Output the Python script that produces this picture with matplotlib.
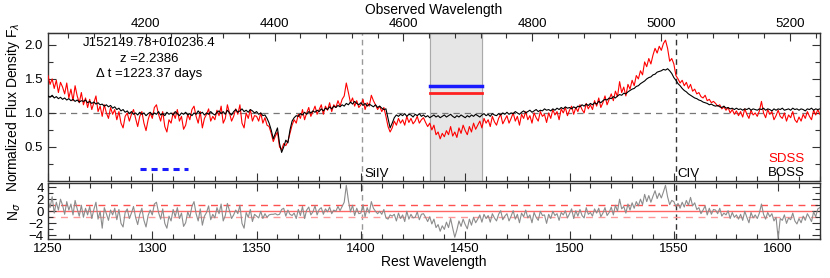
import numpy as np
import matplotlib
matplotlib.use("Agg")
import matplotlib.pyplot as plt
from matplotlib.ticker import MultipleLocator

plt.rcParams['font.family'] = ['Liberation Sans', 'DejaVu Sans']

z = 2.2386
wave = np.arange(1250, 1621, 1)  # rest wavelength grid (Angstrom)

boss = [
    1.25, 1.23, 1.26, 1.22, 1.24, 1.21, 1.23, 1.20, 1.22, 1.19,
    1.21, 1.18, 1.20, 1.17, 1.19, 1.16, 1.18, 1.17, 1.19, 1.15,
    1.17, 1.14, 1.16, 1.13, 1.15, 1.12, 1.13, 1.10, 1.12, 1.09,
    1.11, 1.07, 1.09, 1.05, 1.07, 1.03, 1.05, 1.01, 1.03, 0.99,
    1.02, 0.98, 1.00, 0.97, 1.01, 0.98, 1.00, 0.96, 0.99, 1.01,
    0.97, 1.00, 0.98, 1.02, 0.97, 0.99, 0.96, 1.01, 0.98, 1.00,
    0.97, 1.02, 0.99, 0.96, 1.00, 0.98, 1.01, 0.97, 0.99, 0.96,
    1.00, 0.98, 1.03, 0.99, 1.01, 0.97, 1.00, 0.98, 1.02, 0.99,
    0.97, 1.01, 1.03, 0.99, 1.02, 0.98, 1.04, 1.00, 0.97, 1.02,
    1.05, 1.01, 1.03, 1.06, 1.02, 1.04, 1.01, 1.05, 1.03, 1.00,
    1.02, 0.98, 1.00, 0.96, 0.97, 0.92, 0.85, 0.75, 0.62, 0.70,
    0.78, 0.55, 0.42, 0.50, 0.60, 0.56, 0.75, 0.88, 0.93, 0.96,
    0.95, 0.99, 0.97, 1.01, 0.98, 1.02, 1.00, 1.03, 1.01, 1.04,
    1.02, 1.06, 1.03, 1.07, 1.05, 1.09, 1.06, 1.10, 1.08, 1.11,
    1.09, 1.12, 1.10, 1.14, 1.12, 1.16, 1.13, 1.17, 1.14, 1.12,
    1.15, 1.11, 1.14, 1.10, 1.13, 1.11, 1.09, 1.12, 1.08, 1.10,
    1.07, 1.05, 1.06, 0.92, 0.78, 0.85, 0.93, 0.97, 0.95, 0.98,
    0.96, 0.99, 0.95, 0.98, 0.97, 0.94, 0.98, 0.96, 0.99, 0.95,
    0.97, 0.94, 0.96, 0.93, 0.95, 0.97, 0.94, 0.96, 0.93, 0.95,
    0.97, 0.94, 0.96, 0.98, 0.95, 0.93, 0.96, 0.94, 0.97, 0.95,
    0.93, 0.96, 0.94, 0.97, 0.95, 0.98, 0.96, 0.94, 0.97, 0.99,
    0.96, 0.98, 0.95, 0.99, 0.97, 0.96, 0.99, 0.97, 1.00, 0.98,
    1.01, 0.98, 1.00, 0.99, 1.02, 1.00, 0.98, 1.01, 1.03, 1.00,
    1.02, 1.04, 1.01, 1.03, 1.05, 1.02, 1.04, 1.03, 1.06, 1.04,
    1.05, 1.03, 1.06, 1.04, 1.07, 1.05, 1.08, 1.06, 1.09, 1.07,
    1.08, 1.06, 1.09, 1.07, 1.10, 1.09, 1.12, 1.10, 1.13, 1.11,
    1.14, 1.12, 1.15, 1.13, 1.17, 1.15, 1.18, 1.20, 1.19, 1.22,
    1.21, 1.24, 1.22, 1.25, 1.27, 1.26, 1.29, 1.28, 1.31, 1.33,
    1.35, 1.36, 1.39, 1.40, 1.43, 1.45, 1.47, 1.50, 1.52, 1.53,
    1.56, 1.57, 1.60, 1.61, 1.62, 1.64, 1.63, 1.65, 1.62, 1.58,
    1.52, 1.48, 1.43, 1.40, 1.36, 1.33, 1.31, 1.28, 1.26, 1.24,
    1.22, 1.21, 1.19, 1.18, 1.16, 1.15, 1.14, 1.12, 1.13, 1.11,
    1.10, 1.11, 1.09, 1.08, 1.10, 1.07, 1.08, 1.06, 1.07, 1.05,
    1.07, 1.05, 1.06, 1.04, 1.06, 1.05, 1.07, 1.04, 1.06, 1.05,
    1.04, 1.06, 1.05, 1.07, 1.04, 1.06, 1.05, 1.03, 1.06, 1.04,
    1.06, 1.05, 1.07, 1.04, 1.05, 1.06, 1.04, 1.07, 1.05, 1.06,
    1.04, 1.06, 1.05, 1.03, 1.06, 1.05, 1.07, 1.04, 1.06, 1.05,
    1.06,
]

sdss = [
    1.55, 1.42, 1.50, 1.36, 1.48, 1.30, 1.45, 1.38, 1.28, 1.44,
    1.22, 1.35, 1.18, 1.40, 1.25, 1.15, 1.30, 1.12, 1.22, 1.08,
    1.20, 1.05, 1.15, 1.25, 1.02, 1.10, 0.95, 1.12, 1.00, 0.92,
    1.08, 0.98, 1.05, 0.90, 1.02, 0.85, 0.78, 0.95, 1.00, 0.88,
    0.98, 1.05, 0.92, 0.80, 0.95, 1.02, 0.85, 0.74, 0.90, 1.00,
    0.92, 1.08, 1.12, 0.98, 0.88, 1.02, 0.80, 0.72, 0.90, 0.85,
    1.00, 0.92, 1.05, 0.88, 0.95, 0.76, 0.82, 0.98, 0.90, 1.05,
    1.10, 0.95, 0.85, 1.02, 0.78, 0.92, 0.98, 1.06, 0.88, 0.95,
    0.90, 1.04, 0.96, 1.10, 0.85, 0.92, 1.12, 1.00, 0.88, 0.95,
    1.06, 0.98, 1.12, 0.85, 0.78, 1.00, 0.92, 1.05, 0.88, 0.96,
    0.95, 0.88, 1.00, 0.85, 0.93, 0.82, 0.80, 0.70, 0.58, 0.66,
    0.72, 0.50, 0.46, 0.55, 0.52, 0.58, 0.70, 0.82, 0.90, 0.85,
    0.98, 0.92, 1.05, 0.90, 1.00, 1.08, 0.95, 1.02, 1.10, 0.98,
    1.05, 1.12, 0.98, 1.10, 1.04, 1.15, 1.02, 1.12, 1.08, 1.18,
    1.10, 1.20, 1.25, 1.44, 1.30, 1.15, 1.22, 1.10, 1.18, 1.08,
    1.12, 1.20, 1.05, 1.15, 1.10, 1.26, 1.18, 1.12, 1.05, 1.10,
    1.02, 1.08, 0.95, 0.80, 0.72, 0.78, 0.88, 0.82, 0.92, 0.85,
    0.90, 0.82, 0.95, 0.86, 0.92, 0.84, 0.88, 0.95, 0.85, 0.90,
    0.93, 0.86, 0.80, 0.85, 0.75, 0.82, 0.68, 0.72, 0.62, 0.70,
    0.65, 0.74, 0.68, 0.80, 0.66, 0.72, 0.64, 0.78, 0.70, 0.82,
    0.74, 0.68, 0.80, 0.72, 0.85, 0.76, 0.82, 0.88, 0.78, 0.92,
    0.85, 0.90, 0.80, 0.95, 0.87, 0.82, 0.92, 0.98, 0.84, 0.90,
    0.96, 0.85, 0.92, 1.00, 0.88, 0.95, 0.82, 0.98, 0.92, 1.02,
    0.90, 0.96, 0.85, 1.00, 0.93, 0.88, 1.02, 0.95, 0.98, 0.86,
    1.00, 0.92, 1.05, 0.97, 1.02, 0.90, 1.06, 1.00, 1.08, 0.96,
    1.04, 1.10, 0.98, 1.08, 1.02, 1.12, 1.05, 1.00, 1.14, 1.06,
    1.12, 1.05, 1.18, 1.10, 1.22, 1.08, 1.15, 1.25, 1.12, 1.20,
    1.28, 1.18, 1.32, 1.24, 1.46, 1.30, 1.38, 1.25, 1.42, 1.35,
    1.48, 1.40, 1.55, 1.50, 1.62, 1.56, 1.75, 1.68, 1.80, 1.72,
    1.85, 1.95, 1.88, 1.98, 1.92, 2.02, 2.07, 1.95, 1.76, 1.80,
    1.72, 1.55, 1.50, 1.44, 1.48, 1.40, 1.45, 1.36, 1.42, 1.32,
    1.35, 1.28, 1.30, 1.24, 1.22, 1.26, 1.18, 1.20, 1.15, 1.17,
    1.14, 1.10, 1.12, 1.06, 1.09, 1.04, 1.08, 1.00, 1.05, 0.98,
    1.03, 0.96, 1.02, 0.94, 1.06, 0.98, 0.92, 1.04, 0.97, 1.00,
    0.95, 1.03, 1.17, 1.00, 0.93, 1.05, 0.98, 1.02, 0.90, 0.96,
    1.04, 0.95, 0.92, 1.00, 0.88, 0.97, 0.93, 1.02, 0.90, 0.86,
    0.94, 0.88, 0.98, 0.92, 1.02, 0.95, 0.90, 1.04, 0.97, 1.05,
    0.98,
]

nsigma = [
    1.8, 0.6, 2.4, -0.3, 1.5, 0.2, 2.0, 1.0, -0.5, 1.6,
    0.2, 1.2, -0.6, 1.8, 0.4, -0.8, 1.0, -1.0, 0.5, -0.6,
    0.8, -1.2, 0.3, 1.5, -1.3, 0.0, -2.8, 0.6, -0.4, -1.5,
    0.2, -0.6, 0.5, -1.4, 0.3, -2.0, -2.6, -0.2, 0.4, -1.2,
    -0.3, 0.8, -1.0, -2.2, -0.5, 0.5, -1.5, -2.6, -0.7, 0.2,
    -0.6, 1.2, 1.5, -0.2, -1.3, 0.4, -2.0, -2.8, -0.8, -1.6,
    0.3, -0.9, 0.6, -1.2, -0.3, -2.5, -1.9, -0.1, -1.0, 0.8,
    1.6, -0.4, -1.6, 0.4, -2.3, -0.8, -0.2, 0.9, -1.4, -0.5,
    -1.1, 0.6, -0.4, 1.2, -1.6, -0.7, 1.3, 0.1, -1.2, -0.6,
    0.2, -0.4, 1.0, -2.0, -2.8, -0.2, -1.0, 0.3, -1.7, -0.5,
    -0.8, -1.1, 0.0, -1.2, -0.4, -1.0, -0.6, -0.5, -0.5, -0.4,
    -0.6, -0.5, 0.3, 0.5, -0.8, 0.2, -0.5, -0.7, -0.3, -1.2,
    0.3, -0.7, 0.8, -1.2, 0.2, 0.7, -0.6, -0.1, 0.9, -0.6,
    0.3, 0.6, -0.5, 0.4, -0.1, 0.7, -0.4, 0.2, 0.0, 0.8,
    0.1, 0.8, 1.5, 4.3, 1.8, -0.1, 1.0, -0.7, 0.5, -0.4,
    -0.3, 1.1, -0.9, 0.6, -0.3, 1.6, 0.5, 0.0, -0.4, 0.0,
    -0.5, 0.3, -1.1, -1.3, -0.6, -0.8, -0.5, -1.6, -0.3, -1.2,
    -0.6, -1.7, 0.0, -1.3, -0.5, -1.1, -1.0, -0.1, -1.4, -0.5,
    -0.4, -1.0, -1.7, -0.9, -2.1, -1.3, -2.7, -2.2, -3.3, -2.4,
    -3.0, -1.8, -2.7, -1.2, -2.8, -4.3, -3.1, -1.6, -2.5, -1.3,
    -2.2, -2.9, -1.3, -2.3, -1.0, -1.9, -1.3, -0.6, -1.8, -0.5,
    -1.2, -0.7, -1.8, -0.4, -1.1, -1.6, -0.5, 0.1, -1.4, -0.8,
    -0.4, -1.6, -0.8, 0.1, -1.3, -0.5, -1.9, -0.3, -0.9, 0.2,
    -1.1, -0.6, -1.9, -0.2, -1.0, -1.5, 0.0, -0.7, -0.6, -2.0,
    -0.5, -1.2, 0.0, -0.7, -0.4, -1.5, -0.2, -0.6, 0.1, -1.1,
    -0.4, 0.4, -1.2, 0.1, -0.8, 0.3, -0.7, -1.1, 0.6, -0.5,
    -0.2, -0.8, 0.4, -0.3, 0.5, -0.9, -0.3, 0.6, -0.7, -0.2,
    0.7, -0.6, 1.0, 0.0, 2.0, 0.4, 0.8, -0.3, 1.2, 0.2,
    1.4, 0.5, 1.6, 0.9, 2.0, 1.1, 2.8, 1.6, 2.6, 1.5,
    2.5, 3.4, 2.1, 3.0, 2.2, 3.2, 4.3, 2.4, 1.1, 1.8,
    1.6, 0.8, 1.3, 0.5, 1.5, 0.7, 1.8, 1.0, 2.3, 0.9,
    1.4, 0.3, 0.6, -0.4, 0.2, 0.9, -0.6, 0.5, -0.5, 0.3,
    0.2, -0.4, 0.5, -0.8, -0.3, -0.6, 0.1, -1.2, -0.2, -1.0,
    -0.6, -1.3, -0.5, -1.5, 0.0, -1.0, -1.9, -0.2, -1.1, -0.6,
    -1.2, -0.3, 1.2, -0.5, -1.3, -0.2, -0.9, -0.4, -1.6, -1.0,
    -4.5, -1.2, -1.5, -0.6, -2.0, -1.1, -1.4, -0.3, -1.6, -2.1,
    -1.2, -1.9, -0.8, -1.5, -0.4, -1.0, -1.7, -0.1, -0.9, 0.4,
    0.6,
]

line_names = ['SiIV', 'CIV']
line_waves = [1400.5, 1550.8]
line_colors = ['#999999', '#333333']
shade_range = [1433, 1458]
bar_blue = [1433, 1458, 1.40]
bar_red = [1433, 1458, 1.30]
bar_blue_dash = [1294, 1317, 0.18]
obs_ticks = [4200, 4400, 4600, 4800, 5000, 5200]

xlim = (1250, 1620)

fig = plt.figure(figsize=(8.30, 2.78), dpi=100)
ax1 = fig.add_axes([0.0578, 0.349, 0.930, 0.5335])
ax2 = fig.add_axes([0.0578, 0.140, 0.930, 0.200])

for ax in (ax1, ax2):
    for s in ax.spines.values():
        s.set_linewidth(1.0)
        s.set_color('#333333')

# Top panel
ax1.axvspan(shade_range[0], shade_range[1], color='#e6e6e6', zorder=0)
ax1.axvline(shade_range[0], color='#aaaaaa', lw=0.8, zorder=0.5)
ax1.axvline(shade_range[1], color='#aaaaaa', lw=0.8, zorder=0.5)
ax1.axhline(1.0, color='#777777', lw=0.9, ls=(0, (5, 4)), zorder=1)
for lw_, c in zip(line_waves, line_colors):
    ax1.axvline(lw_, color=c, lw=1.0, ls=(0, (4, 3)), zorder=1)
    ax2.axvline(lw_, color=c, lw=1.0, ls=(0, (4, 3)), zorder=1)

ax1.plot(wave, sdss, color='#ff0000', lw=0.8, zorder=3)
ax1.plot(wave, boss, color='#000000', lw=0.8, zorder=4)
ax1.plot(bar_blue[:2], [bar_blue[2]] * 2, color='#1a1aff', lw=2.5, zorder=5)
ax1.plot(bar_red[:2], [bar_red[2]] * 2, color='#ff2020', lw=2.0, zorder=5)
ax1.plot(bar_blue_dash[:2], [bar_blue_dash[2]] * 2, color='#1a1aff', lw=2.2,
         ls=(0, (2, 1.6)), zorder=5)

ax1.set_xlim(*xlim)
ax1.set_ylim(0.0, 2.18)
ax1.set_yticks([0.5, 1.0, 1.5, 2.0])
ax1.yaxis.set_minor_locator(MultipleLocator(0.25))
ax1.xaxis.set_major_locator(MultipleLocator(50))
ax1.xaxis.set_minor_locator(MultipleLocator(10))
ax1.tick_params(axis='x', which='both', labelbottom=False, direction='in')
ax1.tick_params(axis='y', which='both', direction='in', right=True, labelsize=9.5)
ax1.tick_params(which='major', length=6, width=0.8, color='#333333')
ax1.tick_params(which='minor', length=3.5, width=0.8, color='#333333')
ax1.set_ylabel(r'Normalized Flux Density F$_\lambda$', fontsize=10, labelpad=2)

sec = ax1.secondary_xaxis('top', functions=(lambda x: x * (1 + z), lambda x: x / (1 + z)))
sec.set_xticks(obs_ticks)
sec.xaxis.set_minor_locator(MultipleLocator(40))
sec.tick_params(which='both', direction='in', labelsize=9.5, pad=2)
sec.tick_params(which='major', length=6, width=0.8, color='#333333')
sec.tick_params(which='minor', length=3.5, width=0.8, color='#333333')
sec.set_xlabel('Observed Wavelength', fontsize=10, labelpad=3)

ax1.text(0.131, 0.928, 'J152149.78+010236.4', transform=ax1.transAxes,
         ha='center', va='center', fontsize=9.5)
ax1.text(0.131, 0.821, 'z =2.2386', transform=ax1.transAxes,
         ha='center', va='center', fontsize=9.5)
ax1.text(0.131, 0.722, '\u0394 t =1223.37 days', transform=ax1.transAxes,
         ha='center', va='center', fontsize=9.5)

for name, lw_ in zip(line_names, line_waves):
    ax1.text(lw_ + 1.0, 0.047, name, transform=ax1.get_xaxis_transform(),
             ha='left', va='center', fontsize=9.5)

ax1.text(0.9806, 0.150, 'SDSS', color='#ff0000', transform=ax1.transAxes,
         ha='right', va='center', fontsize=9.5)
ax1.text(0.9806, 0.056, 'BOSS', color='#000000', transform=ax1.transAxes,
         ha='right', va='center', fontsize=9.5)

# Bottom panel
ax2.axhline(0.0, color='#ff6666', lw=1.0, zorder=1)
ax2.axhline(1.0, color='#ff5050', lw=1.0, ls=(0, (5, 4)), zorder=1)
ax2.axhline(-1.0, color='#ff9999', lw=1.0, ls=(0, (5, 4)), zorder=1)
ax2.plot(wave, nsigma, color='#8c8c8c', lw=0.8, zorder=2)
ax2.set_xlim(*xlim)
ax2.set_ylim(-4.6, 4.6)
ax2.set_yticks([-4, -2, 0, 2, 4])
ax2.yaxis.set_minor_locator(MultipleLocator(1))
ax2.xaxis.set_major_locator(MultipleLocator(50))
ax2.xaxis.set_minor_locator(MultipleLocator(10))
ax2.tick_params(which='both', direction='in', top=True, right=True, labelsize=9.5, pad=3)
ax2.tick_params(which='major', length=6, width=0.8, color='#333333')
ax2.tick_params(which='minor', length=3.5, width=0.8, color='#333333')
ax2.set_xlabel('Rest Wavelength', fontsize=10, labelpad=0)
ax2.set_ylabel(r'N$_\sigma$', fontsize=10, labelpad=4)

fig.savefig('out.png', dpi=100)
